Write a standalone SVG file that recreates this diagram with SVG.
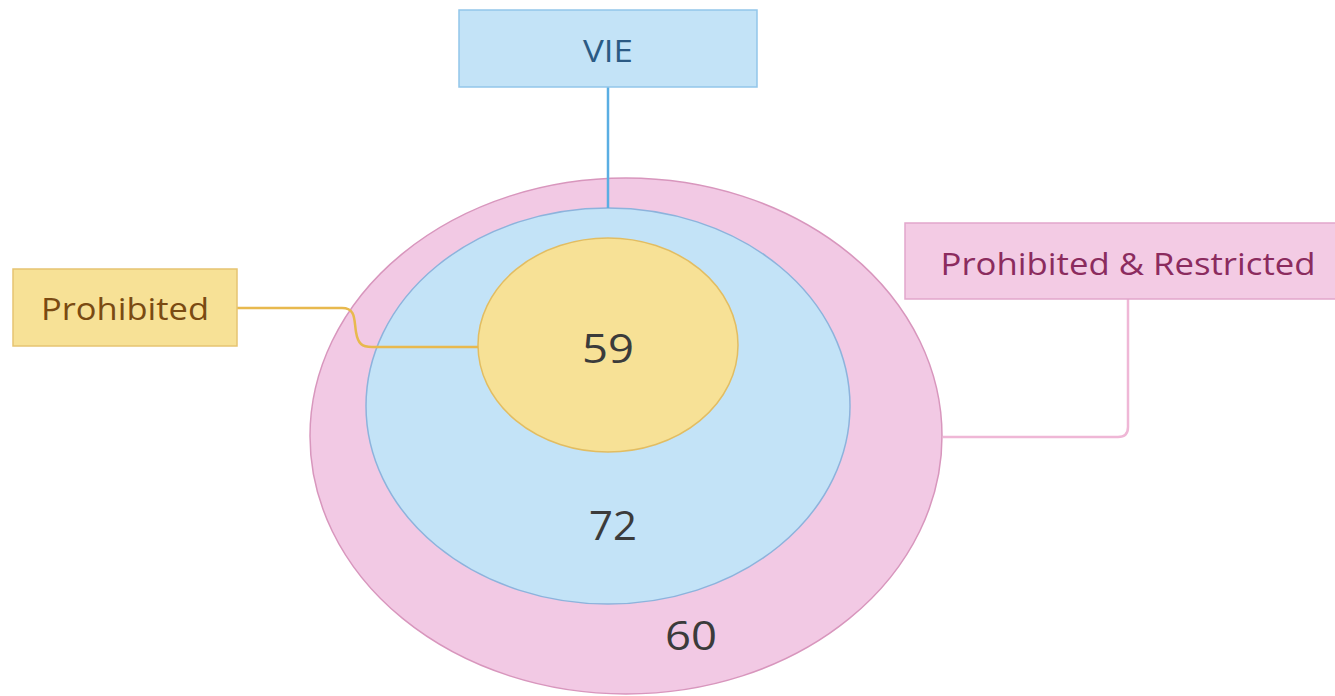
<svg xmlns="http://www.w3.org/2000/svg" width="1335" height="696" viewBox="0 0 1335 696">
<style>
text{font-family:"Open Sans","Noto Sans","DejaVu Sans",sans-serif;text-anchor:middle;dominant-baseline:central}
.lbl{font-size:31px}
.num{font-size:40px;fill:#3b3b3b}
.conn{fill:none;stroke-width:2.5}
</style>
<rect width="1335" height="696" fill="#ffffff"/>
<g id="outer">
<ellipse cx="626" cy="436" rx="316" ry="258" fill="#f2c9e4" stroke="#d896bd" stroke-width="1.5"/>
<text class="num" x="691" y="634" textLength="52" lengthAdjust="spacingAndGlyphs">60</text>
</g>
<g id="middle">
<ellipse cx="608" cy="406" rx="242" ry="198" fill="#c3e3f7" stroke="#8db3dc" stroke-width="1.5"/>
<text class="num" x="613" y="524" textLength="48" lengthAdjust="spacingAndGlyphs">72</text>
</g>
<g id="inner">
<ellipse cx="608" cy="345" rx="130" ry="107" fill="#f7e196" stroke="#e2bd62" stroke-width="1.5"/>
<text class="num" x="608" y="347" textLength="52" lengthAdjust="spacingAndGlyphs">59</text>
</g>
<g id="connectors">
<path class="conn" stroke="#5aaee3" d="M608,87 V208"/>
<path class="conn" stroke="#e8b94e" d="M237,308 H342 C356,308 354,320 356,332 C358,344 362,347 372,347 H478"/>
<path class="conn" stroke="#efb7d6" d="M1128,299 V427 Q1128,437 1118,437 H943"/>
</g>
<g id="vie">
<rect x="459" y="10" width="298" height="77" fill="#c3e3f7" stroke="#92c6ea" stroke-width="1.5"/>
<text class="lbl" x="608" y="50" fill="#2b5a84" textLength="50" lengthAdjust="spacingAndGlyphs">VIE</text>
</g>
<g id="prohibited">
<rect x="13" y="269" width="224" height="77" fill="#f7e196" stroke="#e6c472" stroke-width="1.5"/>
<text class="lbl" x="125" y="308" fill="#7a4a12" textLength="168" lengthAdjust="spacingAndGlyphs">Prohibited</text>
</g>
<g id="prohibited-restricted">
<rect x="905" y="223" width="432" height="76" fill="#f3cbe4" stroke="#e2a6cb" stroke-width="1.5"/>
<text class="lbl" x="1128" y="263" fill="#8b2b5e" textLength="375" lengthAdjust="spacingAndGlyphs">Prohibited &amp; Restricted</text>
</g>
</svg>
